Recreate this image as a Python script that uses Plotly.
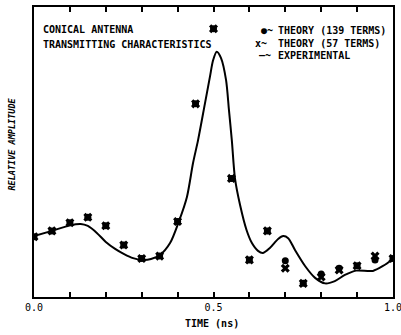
import plotly.graph_objects as go

# Experimental curve (time in ns, relative amplitude)
exp_t = [0.0, 0.05, 0.10, 0.13, 0.15, 0.175, 0.20, 0.226, 0.251, 0.276, 0.301, 0.326, 0.351,
         0.379, 0.404, 0.426, 0.443, 0.457, 0.476, 0.490, 0.499, 0.509, 0.521, 0.535, 0.543,
         0.551, 0.560, 0.574, 0.592, 0.607, 0.624, 0.638, 0.657, 0.680, 0.694, 0.708, 0.727,
         0.755, 0.783, 0.811, 0.838, 0.866, 0.897, 0.944, 0.972, 1.0]
exp_a = [0.210, 0.228, 0.247, 0.252, 0.245, 0.221, 0.190, 0.166, 0.148, 0.134, 0.128, 0.131, 0.145,
         0.186, 0.262, 0.345, 0.462, 0.541, 0.666, 0.759, 0.817, 0.846, 0.824, 0.748, 0.645,
         0.541, 0.407, 0.317, 0.231, 0.186, 0.159, 0.152, 0.169, 0.200, 0.210, 0.203, 0.162,
         0.107, 0.066, 0.047, 0.055, 0.076, 0.091, 0.090, 0.107, 0.131]

# Theory points
th_t = [0.0, 0.05, 0.10, 0.15, 0.20, 0.25, 0.30, 0.35, 0.40, 0.45, 0.50, 0.55, 0.60, 0.65,
        0.70, 0.75, 0.80, 0.85, 0.90, 0.95, 1.0]
th139 = [0.208, 0.228, 0.256, 0.275, 0.246, 0.179, 0.133, 0.141, 0.260, 0.666, 0.925, 0.409,
         0.128, 0.228, 0.125, 0.047, 0.079, 0.099, 0.108, 0.128, 0.133]
th57 = [0.208, 0.228, 0.256, 0.275, 0.246, 0.179, 0.133, 0.141, 0.260, 0.666, 0.925, 0.409,
        0.128, 0.228, 0.099, 0.047, 0.069, 0.093, 0.108, 0.141, 0.133]

tick_vals = [0.0, 0.1, 0.2, 0.3, 0.4, 0.5, 0.6, 0.7, 0.8, 0.9, 1.0]
tick_text = ["0.0", "", "", "", "", "0.5", "", "", "", "", "1.0"]

FONT = "DejaVu Sans Mono"

fig = go.Figure()
fig.add_trace(go.Scatter(x=exp_t, y=exp_a, mode="lines",
                         line=dict(color="black", width=2, shape="spline", smoothing=0.8),
                         name="EXPERIMENTAL"))
fig.add_trace(go.Scatter(x=th_t, y=th139, mode="markers",
                         marker=dict(symbol="circle", size=7, color="black"), name="THEORY (139 TERMS)"))
fig.add_trace(go.Scatter(x=th_t, y=th57, mode="markers",
                         marker=dict(symbol="x", size=8, color="black"), name="THEORY (57 TERMS)"))

fig.update_layout(
    width=401, height=335,
    margin=dict(l=34, r=8, t=7, b=38, autoexpand=False),
    paper_bgcolor="white", plot_bgcolor="white",
    showlegend=False,
    font=dict(family=FONT, size=10, color="black"),
    xaxis=dict(range=[0, 1], tickvals=tick_vals, ticktext=tick_text, ticks="inside", ticklen=5,
               tickwidth=1.5, tickcolor="black", showline=True, linecolor="black", linewidth=2,
               mirror="ticks", showgrid=False, zeroline=False, automargin=False,
               ticklabeloverflow="allow",
               tickfont=dict(family=FONT, size=10, color="black")),
    yaxis=dict(range=[0, 1], showticklabels=False, ticks="", showline=True, linecolor="black",
               linewidth=2, mirror=True, showgrid=False, zeroline=False, automargin=False),
)

def px_x(px):
    return (px - 34) / 359

def px_y(py):
    return (297 - py) / 290

ann = []
bold = dict(family=FONT, size=10, color="black")
ann.append(dict(text="<b>CONICAL ANTENNA</b>", x=px_x(41), y=px_y(29.5), xanchor="left", yanchor="middle"))
ann.append(dict(text="<b>TRANSMITTING CHARACTERISTICS</b>", x=px_x(41), y=px_y(44.5), xanchor="left", yanchor="middle"))
ann.append(dict(text="<b>THEORY (139 TERMS)</b>", x=px_x(276), y=px_y(30), xanchor="left", yanchor="middle"))
ann.append(dict(text="<b>THEORY (57 TERMS)</b>", x=px_x(276), y=px_y(43), xanchor="left", yanchor="middle"))
ann.append(dict(text="<b>EXPERIMENTAL</b>", x=px_x(276), y=px_y(55.5), xanchor="left", yanchor="middle"))
ann.append(dict(text="<b>●~</b>", x=px_x(275), y=px_y(30), xanchor="right", yanchor="middle"))
ann.append(dict(text="<b>x~</b>", x=px_x(269), y=px_y(43), xanchor="right", yanchor="middle"))
ann.append(dict(text="<b>—~</b>", x=px_x(273), y=px_y(55.5), xanchor="right", yanchor="middle"))
ann.append(dict(text="<b>TIME (ns)</b>", x=px_x(212), y=px_y(323.5), xanchor="center", yanchor="middle"))
ann.append(dict(text="<b><i>RELATIVE AMPLITUDE</i></b>", x=px_x(11.5), y=px_y(144), xanchor="center",
                yanchor="middle", textangle=-90, font=dict(family=FONT, size=8.5, color="black")))
for a in ann:
    a.setdefault("font", bold)
    a.update(xref="paper", yref="paper", showarrow=False)
    fig.add_annotation(**a)

fig.write_html("out.html", config={"displayModeBar": False},
               post_script="document.body.style.margin='0';document.body.style.padding='0';")
